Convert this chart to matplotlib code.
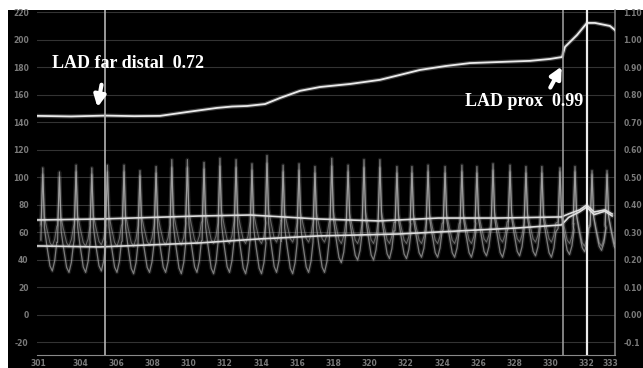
import matplotlib
matplotlib.use("Agg")
import matplotlib.pyplot as plt
import numpy as np

# Pressure wire pullback recording (LAD)
# time axis in seconds
time_ticks = [301.7, 304, 306, 308, 310, 312, 314, 316, 318, 320, 322, 324, 326, 328, 330, 332, 333.3]
time_labels = ['301', '304', '306', '308', '310', '312', '314', '316', '318', '320',
               '322', '324', '326', '328', '330', '332', '333']
press_ticks = list(range(-20, 221, 20))
ffr_ticks = [-0.1, 0.0, 0.1, 0.2, 0.3, 0.4, 0.5, 0.6, 0.7, 0.8, 0.9, 1.0, 1.1]

# FFR (Pd/Pa) trace, right axis
ffr_t = [301.62, 303.5, 305.4, 307.0, 308.42, 309.91, 311.57, 312.4, 313.23, 314.22, 315.05,
         316.15, 317.26, 318.92, 320.57, 321.68, 322.78, 324.17, 325.55, 327.20, 328.86,
         329.97, 330.63, 330.80, 331.46, 332.01, 332.45, 333.28, 333.56]
ffr_val = [0.724, 0.722, 0.725, 0.723, 0.724, 0.738, 0.753, 0.758, 0.760, 0.767, 0.789,
           0.815, 0.829, 0.840, 0.855, 0.873, 0.891, 0.905, 0.916, 0.920, 0.924,
           0.931, 0.938, 0.975, 1.018, 1.062, 1.062, 1.051, 1.036]

# mean pressures (mmHg)
pa_mean_t = [301.62, 305.1, 310.6, 313.4, 317.2, 320.5, 323.8, 327.1, 330.6, 331.0, 331.6,
             332.0, 332.4, 333.0, 333.4]
pa_mean = [69.1, 69.8, 72.0, 72.7, 69.8, 68.4, 70.5, 70.5, 71.3, 73.5, 76.4, 80.0, 74.9, 76.4, 73.5]
pd_mean_t = [301.62, 305.1, 310.6, 313.9, 317.2, 321.6, 324.9, 328.2, 330.6, 331.0, 331.6,
             332.0, 332.4, 333.0, 333.4]
pd_mean = [50.2, 49.5, 52.4, 55.3, 57.5, 58.9, 61.1, 63.3, 65.5, 71.0, 75.0, 78.5, 73.0, 75.5, 72.0]

# phasic pressures: systolic peak time of every beat, peaks and troughs
beat_t = [301.94, 302.86, 303.78, 304.65, 305.51, 306.43, 307.31, 308.20, 309.07, 309.93,
          310.85, 311.73, 312.62, 313.50, 314.33, 315.22, 316.10, 316.98, 317.91, 318.81,
          319.69, 320.57, 321.51, 322.34, 323.23, 324.17, 325.10, 325.93, 326.82, 327.76,
          328.64, 329.52, 330.52, 331.35, 332.29, 333.12]
pd_peak = [107, 104, 109, 107, 109, 109, 105, 108, 113, 113, 111, 114, 113, 110, 116, 109, 110, 108,
           114, 109, 113, 113, 108, 108, 109, 108, 109, 108, 110, 109, 108, 108, 107, 108, 105, 105]
pd_low = [32, 31, 31, 32, 31, 30, 31, 31, 30, 31, 30, 31, 30, 30, 31, 30, 31, 31,
          38, 40, 40, 41, 41, 42, 42, 42, 42, 43, 42, 43, 43, 42, 44, 46, 47, 47]
pa_peak = [102, 100, 104, 102, 104, 104, 101, 103, 107, 107, 106, 108, 107, 105, 110, 104, 105, 103,
           108, 104, 107, 107, 103, 103, 104, 103, 104, 103, 105, 104, 103, 103, 104, 104, 102, 102]
pa_low = [50, 50, 50, 51, 50, 50, 51, 51, 51, 52, 52, 52, 52, 52, 53, 53, 53, 53,
          52, 52, 52, 52, 52, 52, 52, 52, 52, 53, 53, 53, 53, 53, 52, 50, 50, 50]
# one beat: (phase relative to peak, fraction between trough and peak)
beat_phase = [-0.12, 0.0, 0.10, 0.25, 0.45, 0.60, 0.75, 0.88]
beat_level = [0.30, 1.0, 0.42, 0.25, 0.05, 0.0, 0.10, 0.28]
period = 0.88


def phasic(peaks, lows):
    xs, ys = [], []
    for t0, hi, lo in zip(beat_t, peaks, lows):
        for ph, lv in zip(beat_phase, beat_level):
            xs.append(t0 + ph * period)
            ys.append(lo + lv * (hi - lo))
    return xs, ys


W, H = 643, 368
fig = plt.figure(figsize=(W / 100, H / 100), dpi=100, facecolor='white')
bg = fig.add_axes([8 / W, 0, 635 / W, 358 / H])
bg.set_facecolor('black')
bg.set_xticks([])
bg.set_yticks([])
for s in bg.spines.values():
    s.set_visible(False)

ax = fig.add_axes([37 / W, 13 / H, 578 / W, 345 / H])
ax.set_facecolor('none')
ax.set_xlim(301.62, 333.56)
ax.set_ylim(-29.1, 221.8)

for p in press_ticks:
    ax.axhline(p, color='#333333', lw=0.8, zorder=1)

# phasic traces with a soft glow
for pk, lo, lw_, a in [(pd_peak, pd_low, 0.9, 0.6), (pa_peak, pa_low, 0.8, 0.45)]:
    xs, ys = phasic(pk, lo)
    ax.plot(xs, ys, color='#8a8a8a', lw=2.8, alpha=0.18, zorder=2)
    ax.plot(xs, ys, color='#c0c0c0', lw=lw_, alpha=a, zorder=3)

for tt, vv in [(pa_mean_t, pa_mean), (pd_mean_t, pd_mean)]:
    ax.plot(tt, vv, color='#bbbbbb', lw=3, alpha=0.22, zorder=4)
    ax.plot(tt, vv, color='#dedede', lw=1.2, zorder=5)

ax.plot(ffr_t, np.array(ffr_val) * 200, color='#cfcfcf', lw=3, alpha=0.3, zorder=4)
ax.plot(ffr_t, np.array(ffr_val) * 200, color='#ececec', lw=1.3, zorder=5)

ax.axvline(305.38, color='#b4b4b4', lw=1.2, zorder=6)
ax.axvline(330.69, color='#a4a4a4', lw=1.1, zorder=6)
ax.axvline(332.01, color='#ececec', lw=1.6, zorder=6)

for side in ['left', 'top']:
    ax.spines[side].set_visible(False)
ax.spines['bottom'].set_color('#8a8a8a')
ax.spines['right'].set_color('#8a8a8a')
ax.spines['right'].set_linewidth(1.1)

ax.set_yticks(press_ticks)
ax.set_yticklabels([str(p) for p in press_ticks])
ax.set_xticks(time_ticks)
ax.set_xticklabels(time_labels)
ax.tick_params(axis='y', length=0, pad=6, labelsize=5.5, labelcolor='#7a7a7a')
ax.tick_params(axis='x', length=0, pad=3, labelsize=5.5, labelcolor='#7a7a7a')

ax2 = ax.twinx()
ax2.set_ylim(-29.1 / 200, 221.8 / 200)
ax2.set_yticks(ffr_ticks)
ax2.set_yticklabels(['-0.1' if v < 0 else '%.2f' % v for v in ffr_ticks])
ax2.tick_params(axis='y', length=0, pad=6, labelsize=5.5, labelcolor='#7a7a7a')
for s in ax2.spines.values():
    s.set_visible(False)
for lab in ax.get_yticklabels() + ax.get_xticklabels() + ax2.get_yticklabels():
    lab.set_fontweight('bold')

# annotations
fig.text(52 / W, 1 - 63 / H, 'LAD far distal  0.72', color='white', fontsize=13,
         fontfamily='Liberation Serif', fontweight='bold', ha='left', va='center')
fig.text(465 / W, 1 - 102 / H, 'LAD prox  0.99', color='white', fontsize=13,
         fontfamily='Liberation Serif', fontweight='bold', ha='left', va='center')
arrow = dict(arrowstyle='-|>', color='white', lw=3, mutation_scale=17)
fig.add_artist(matplotlib.patches.FancyArrowPatch((102 / W, 1 - 82 / H), (97 / W, 1 - 110 / H),
                                                  transform=fig.transFigure, **arrow))
fig.add_artist(matplotlib.patches.FancyArrowPatch((549 / W, 1 - 90 / H), (563 / W, 1 - 64 / H),
                                                  transform=fig.transFigure, **arrow))

fig.savefig('out.png', dpi=100, facecolor='white')
